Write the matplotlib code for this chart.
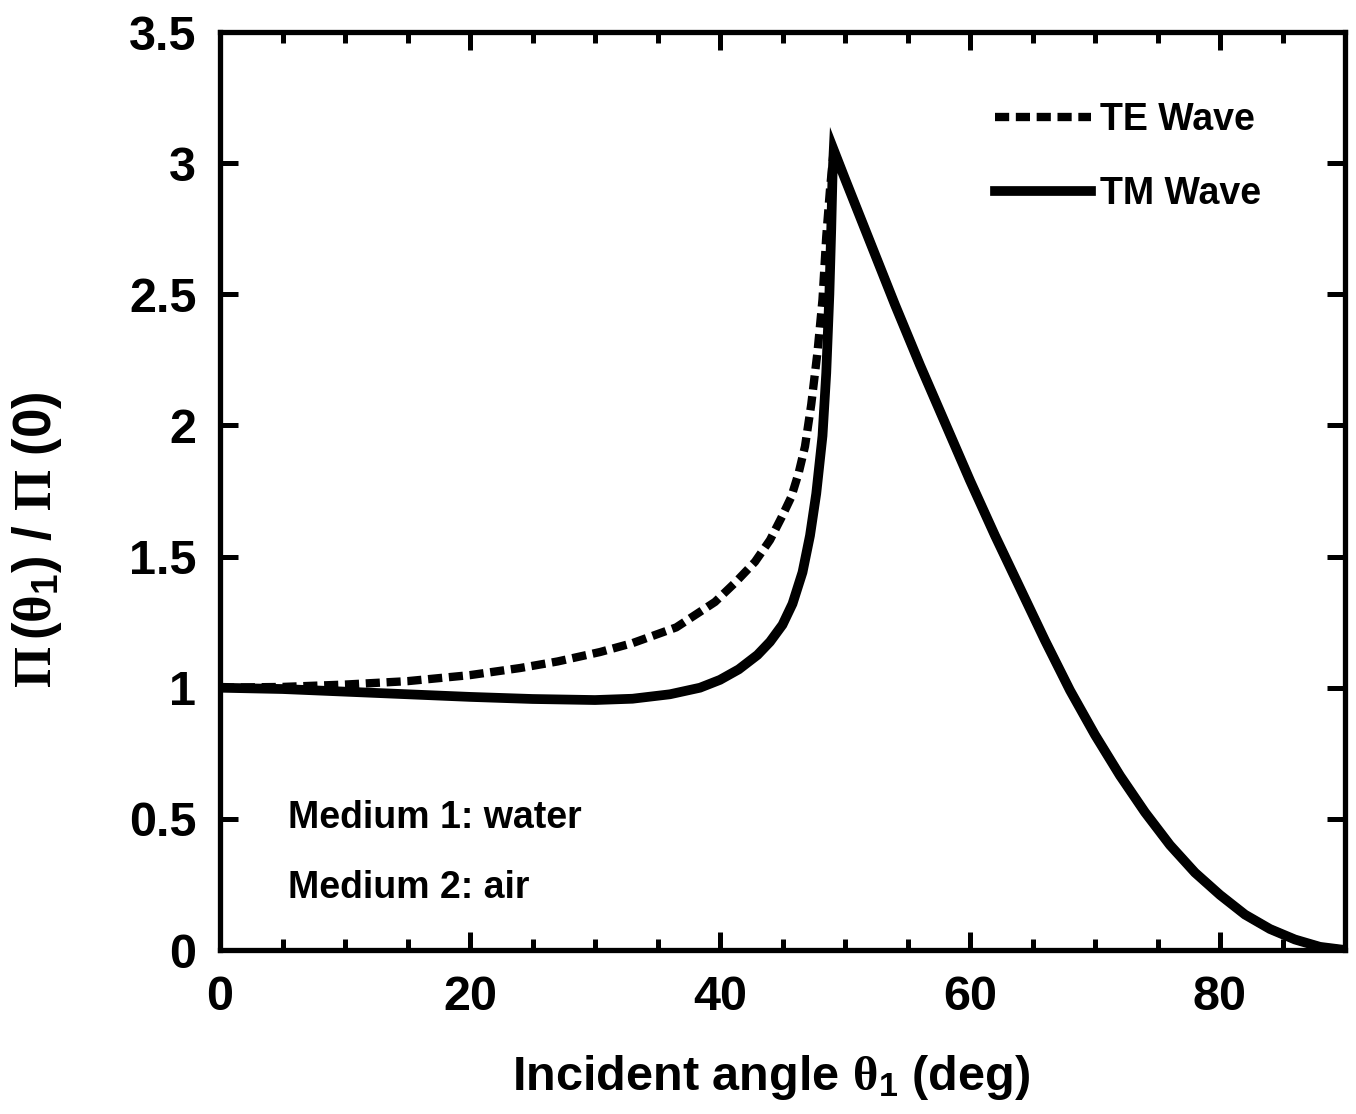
import numpy as np
import matplotlib
matplotlib.use('Agg')
import matplotlib.pyplot as plt

plt.rcParams['font.family'] = ['Liberation Sans', 'DejaVu Sans']
plt.rcParams['font.weight'] = 'bold'
plt.rcParams['mathtext.fontset'] = 'custom'
plt.rcParams['mathtext.rm'] = 'Liberation Serif'
plt.rcParams['mathtext.it'] = 'Liberation Serif'
plt.rcParams['mathtext.bf'] = 'Liberation Sans:bold'
plt.rcParams['mathtext.default'] = 'rm'

# 读图得到的数据 (incident angle, deg)
te_x = [0, 5, 10, 15, 20, 24, 27, 30.4, 33, 36.5, 39.6, 41.2, 42.8, 44, 44.9, 45.7,
        46.3, 46.8, 47.3, 47.8, 48.2, 48.5, 48.8, 49.0]
te_y = [1.0, 1.003, 1.012, 1.025, 1.048, 1.075, 1.10, 1.136, 1.17, 1.23, 1.327, 1.40,
        1.48, 1.563, 1.647, 1.727, 1.82, 1.92, 2.08, 2.28, 2.48, 2.72, 2.90, 3.0]

tm_x = [0, 5, 10, 15, 20, 25, 30, 33, 36, 38.4, 40, 41.5, 43, 44, 45, 45.8, 46.6,
        47.2, 47.7, 48.2, 48.5, 48.75, 48.9, 49.0]
tm_y = [1.0, 0.995, 0.985, 0.975, 0.965, 0.957, 0.953, 0.958, 0.975, 1.0, 1.03,
        1.07, 1.125, 1.175, 1.24, 1.32, 1.44, 1.58, 1.74, 1.96, 2.2, 2.5, 2.75, 2.95]

# 临界角之后两条曲线重合
tail_x = [49.1, 50, 52, 54, 56, 58, 60, 62, 64, 66, 68, 70, 72, 74, 76, 78, 80,
          82, 84, 86, 88, 90]
tail_y = [3.05, 2.94, 2.70, 2.46, 2.23, 2.01, 1.79, 1.58, 1.38, 1.18, 0.99, 0.82,
          0.665, 0.525, 0.40, 0.295, 0.21, 0.135, 0.08, 0.04, 0.012, 0.0]

x_ticks = [0, 20, 40, 60, 80]
y_ticks = [0, 0.5, 1, 1.5, 2, 2.5, 3, 3.5]
y_labels = ['0', '0.5', '1', '1.5', '2', '2.5', '3', '3.5']

fig = plt.figure(figsize=(13.56, 11.14), dpi=100)
ax = fig.add_axes([220 / 1356, 1 - 950 / 1114, 1125 / 1356, 918 / 1114])

ax.plot(te_x + tail_x, te_y + tail_y, color='k', lw=6, ls=(0, (1.7, 0.8)),
        dash_capstyle='butt', label='TE Wave')
ax.plot(tm_x + tail_x, tm_y + tail_y, color='k', lw=7, solid_joinstyle='miter',
        label='TM Wave')

ax.set_xlim(0, 90)
ax.set_ylim(0, 3.5)
ax.set_xticks(x_ticks)
ax.set_xticks(np.arange(0, 91, 5), minor=True)
ax.set_yticks(y_ticks)
ax.set_yticklabels(y_labels)

for s in ax.spines.values():
    s.set_linewidth(3.8)
ax.tick_params(which='both', direction='in', top=True, right=True, width=3.6)
ax.tick_params(which='major', length=13, labelsize=35, pad=18)
ax.tick_params(which='minor', length=8)
ax.tick_params(axis='y', which='major', pad=17)

leg = ax.legend(loc='upper right', bbox_to_anchor=(0.955, 0.96), frameon=False,
                fontsize=27, handlelength=2.56, handletextpad=0.24, labelspacing=1.0)

ax.text(5.4, 0.465, 'Medium 1: water', fontsize=27, va='baseline')
ax.text(5.4, 0.198, 'Medium 2: air', fontsize=27, va='baseline')

fig.text(771 / 1356, 1 - 1090 / 1114, r'Incident angle $\theta_{\mathbf{1}}$ (deg)',
         fontsize=35, ha='center', va='baseline')
fig.text(37 / 1356, 1 - 540 / 1114, r'$\Pi\,$($\theta_{\mathbf{1}}$) / $\Pi$ (0)',
         fontsize=38, ha='center', va='center', rotation=90)

fig.savefig('out.png', dpi=100)
